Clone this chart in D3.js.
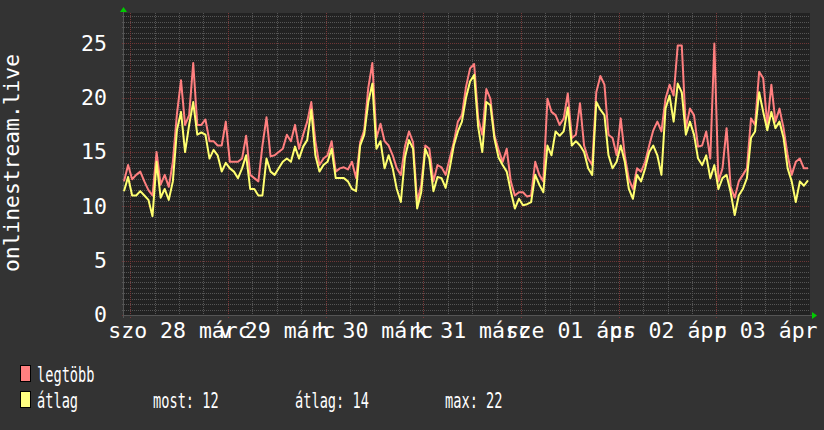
<!DOCTYPE html>
<html><head><meta charset="utf-8">
<script src="https://cdn.jsdelivr.net/npm/d3@7"></script>
<style>
html,body{margin:0;padding:0;background:#333333;}
svg{display:block;}
text{font-family:"DejaVu Sans Mono",monospace;}
</style></head><body>
<svg id="c" width="824" height="430"></svg>
<script>
// ---- data ----
const startTime = Date.UTC(2015, 2, 27, 22, 30); // first sample, hourly samples
const maxValues = [
12.3,13.8,12.5,12.9,13.2,12.3,11.5,11.0,15.0,12.0,12.9,11.8,14.1,18.5,21.6,17.5,18.4,23.2,17.5,17.5,
18.0,16.0,16.0,15.6,15.6,17.8,14.1,14.1,14.1,14.4,16.5,12.9,12.6,12.3,15.6,18.2,14.6,14.7,15.0,15.3,
16.6,16.0,17.5,15.3,16.6,17.8,19.6,16.0,13.8,14.4,14.7,16.0,13.2,13.5,13.6,13.4,14.1,12.6,15.9,17.0,
20.9,23.2,16.3,17.6,16.0,15.6,14.7,13.5,12.9,15.5,16.9,15.9,10.4,12.0,15.6,15.3,12.3,13.8,13.6,12.9,
14.4,15.9,17.8,18.4,21.0,22.7,23.1,18.1,16.6,20.8,19.9,16.5,15.2,14.1,15.3,12.3,11.0,11.3,11.3,10.9,
11.0,14.1,12.9,12.3,19.9,18.7,18.4,17.5,18.1,20.4,16.3,16.6,19.5,15.6,14.4,13.8,20.5,22.0,21.2,16.6,
16.3,14.7,18.1,14.7,12.5,11.6,13.5,13.2,14.1,15.6,17.0,17.8,16.9,19.9,21.2,20.2,24.8,24.8,17.2,19.0,
18.4,15.5,15.6,16.9,14.4,25.0,12.3,13.5,17.2,11.8,10.8,12.3,12.9,13.5,18.1,17.5,22.4,21.8,17.5,21.2,
17.8,19.0,17.2,14.7,12.9,14.1,14.4,13.5,13.5
];
const avgValues = [
11.4,12.7,11.0,11.0,11.4,11.0,10.6,9.1,14.1,10.8,11.6,10.6,12.3,17.0,18.7,15.0,17.5,19.6,16.6,16.8,
16.6,14.4,15.2,14.7,13.2,14.0,13.5,13.2,12.6,13.5,14.7,11.6,11.6,11.0,11.0,14.4,13.2,12.9,13.5,14.1,
14.4,14.1,15.5,14.4,15.5,16.1,18.9,14.7,13.2,13.8,14.1,15.3,12.6,12.6,12.6,12.3,11.6,11.4,15.6,16.6,
19.6,21.3,15.3,16.0,13.5,14.7,13.5,11.6,10.4,14.5,16.1,15.3,9.8,11.3,15.3,14.4,11.4,12.7,12.6,11.7,
13.5,15.6,16.9,17.8,20.0,21.5,22.1,17.3,15.0,19.6,19.3,16.2,14.5,13.8,13.2,11.4,9.8,10.7,10.1,10.2,
10.4,12.9,12.0,11.3,15.6,14.7,16.9,16.5,16.9,19.1,15.6,16.0,15.6,15.0,13.5,12.9,19.6,18.9,18.4,14.7,
13.5,14.1,15.6,14.1,11.6,10.7,12.9,12.3,13.5,15.0,15.6,14.7,12.9,19.0,20.2,17.8,21.3,20.5,16.6,17.8,
16.6,14.4,13.8,14.7,12.6,13.8,11.6,12.6,12.9,11.3,9.2,11.0,11.6,12.6,16.3,16.9,20.5,18.7,17.0,18.7,
17.2,17.8,16.3,13.5,12.3,10.4,12.3,11.9,12.4
];
const dayLabels = ["szo 28 márc","v 29 márc","h 30 márc","k 31 márc","sze 01 ápr","cs 02 ápr","p 03 ápr"];
const dayDates = [[2015,2,28],[2015,2,29],[2015,2,30],[2015,2,31],[2015,3,1],[2015,3,2],[2015,3,3]];
const yTicks = [0,5,10,15,20,25];
const seriesNames = ["legtöbb","átlag"];
const seriesColors = ["#ff7f7f","#ffff70"];
const legendSwatch = ["#ff8080","#ffff80"];
const statLabels = ["most: 12","átlag: 14","max: 22"];
const yTitle = "onlinestream.live";

// ---- layout ----
const HOUR = 3600e3;
const svg = d3.select("#c");
const plot = {left:124, right:810, top:13, bottom:315};
const x = d3.scaleUtc().domain([new Date(startTime), new Date(startTime + 168*HOUR)]).range([124, 808]);
const y = d3.scaleLinear().domain([0, 27.8]).range([plot.bottom, plot.top]);

svg.append("rect").attr("width",824).attr("height",430).attr("fill","#333333");
svg.append("rect").attr("x",plot.left).attr("y",plot.top)
  .attr("width",plot.right-plot.left).attr("height",plot.bottom-plot.top).attr("fill","#222222");

// grid
const g = svg.append("g");
const minorY = d3.range(0.5, 27.8, 0.5).filter(v => v % 5 !== 0);
g.selectAll(".hmin").data(minorY).join("line")
  .attr("x1",plot.left-2).attr("x2",plot.right).attr("y1",d=>Math.round(y(d))+0.5).attr("y2",d=>Math.round(y(d))+0.5)
  .attr("stroke","#555555").attr("stroke-dasharray","1,1");
const t0 = new Date(startTime), t1 = new Date(startTime + 168*HOUR);
const sixH = d3.utcHour.every(6).range(t0, t1).filter(d => d.getUTCHours() !== 0);
g.selectAll(".vmin").data(sixH).join("line")
  .attr("y1",plot.top).attr("y2",plot.bottom+2).attr("x1",d=>Math.round(x(d))+0.5).attr("x2",d=>Math.round(x(d))+0.5)
  .attr("stroke","#555555").attr("stroke-dasharray","1,1");
g.selectAll(".hmaj").data(yTicks).join("line")
  .attr("x1",plot.left-2).attr("x2",plot.right).attr("y1",d=>Math.round(y(d))+0.5).attr("y2",d=>Math.round(y(d))+0.5)
  .attr("stroke","#6e3636").attr("stroke-dasharray","1,1");
const midnights = dayDates.map(d => new Date(Date.UTC(d[0],d[1],d[2])));
g.selectAll(".vmaj").data(midnights).join("line")
  .attr("y1",plot.top).attr("y2",plot.bottom+3).attr("x1",d=>Math.round(x(d))+0.5).attr("x2",d=>Math.round(x(d))+0.5)
  .attr("stroke","#7a3838").attr("stroke-dasharray","1,1");

// axes lines
svg.append("line").attr("x1",plot.left-1).attr("x2",plot.right+2).attr("y1",plot.bottom+0.5).attr("y2",plot.bottom+0.5).attr("stroke","#555");
svg.append("line").attr("x1",plot.left-0.5).attr("x2",plot.left-0.5).attr("y1",plot.top-2).attr("y2",plot.bottom+3).attr("stroke","#555");
svg.append("path").attr("d",`M${plot.left-4},${plot.top-1}L${plot.left+3},${plot.top-1}L${plot.left-0.5},${plot.top-6}Z`).attr("fill","#00cc00");
svg.append("path").attr("d",`M${plot.right+2},${plot.bottom-3}L${plot.right+2},${plot.bottom+4}L${plot.right+7},${plot.bottom+0.5}Z`).attr("fill","#00cc00");

// series
const times = maxValues.map((_, i) => new Date(startTime + i*HOUR));
const line = d3.line().curve(d3.curveLinear).x(d=>x(d[0])).y(d=>y(d[1]));
[maxValues, avgValues].forEach((vals, k) => {
  svg.append("path").datum(vals.map((v,i)=>[times[i], v]))
    .attr("d", line).attr("fill","none").attr("stroke", seriesColors[k])
    .attr("stroke-width", 2).attr("stroke-linejoin","round");
});

// y axis labels
const yAxis = d3.axisLeft(y).tickValues(yTicks).tickSize(0).tickPadding(17).tickFormat(d3.format("d"));
const ya = svg.append("g").attr("transform",`translate(${plot.left},0)`).call(yAxis);
ya.select(".domain").remove();
ya.selectAll("text").attr("fill","#ffffff").attr("font-size","21.5px").attr("font-family","DejaVu Sans Mono");

// x axis labels
const noons = dayDates.map(d => new Date(Date.UTC(d[0],d[1],d[2],12)));
const xAxis = d3.axisBottom(x).tickValues(noons).tickSize(0).tickPadding(8).tickFormat((d,i)=>dayLabels[i]);
const xa = svg.append("g").attr("transform",`translate(0,${plot.bottom})`).call(xAxis);
xa.select(".domain").remove();
xa.selectAll("text").attr("fill","#ffffff").attr("font-size","21.5px").attr("font-family","DejaVu Sans Mono");

// y title
svg.append("text").attr("transform","translate(19,163) rotate(-90)").attr("text-anchor","middle")
  .attr("fill","#ffffff").attr("font-size","21.3px").text(yTitle);

// legend
const legRows = [382, 408];
seriesNames.forEach((name, k) => {
  svg.append("rect").attr("x",20.5).attr("y",legRows[k]-16.5).attr("width",10).attr("height",16)
    .attr("fill",legendSwatch[k]).attr("stroke","#000").attr("stroke-width",1);
  svg.append("text").attr("transform",`translate(37,${legRows[k]}) scale(0.65,1)`)
    .attr("fill","#ffffff").attr("font-size","21px").text(name);
});
const statX = [153, 295, 445];
statLabels.forEach((s, i) => {
  svg.append("text").attr("transform",`translate(${statX[i]},${legRows[1]}) scale(0.65,1)`)
    .attr("fill","#ffffff").attr("font-size","21px").text(s);
});
</script>
</body></html>
